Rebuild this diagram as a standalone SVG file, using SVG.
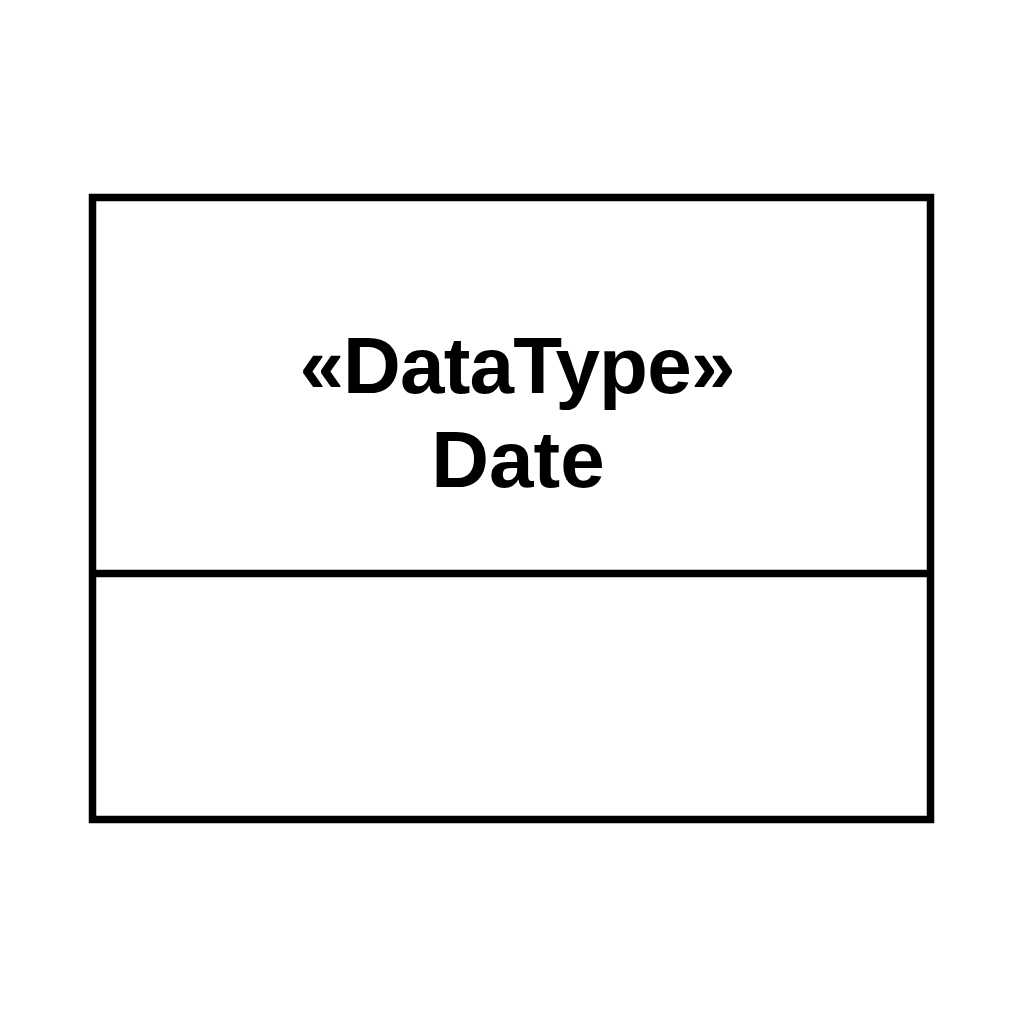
<svg xmlns="http://www.w3.org/2000/svg" width="1024" height="1024" viewBox="0 0 1024 1024">
  <style>
    .box { fill: #ffffff; stroke: #000000; stroke-width: 7.5; }
    .div { stroke: #000000; stroke-width: 7.5; }
    .label { font-family: "Liberation Sans", Arial, sans-serif; font-weight: bold; font-size: 80px; fill: #000000; text-anchor: middle; }
  </style>
  <rect width="1024" height="1024" fill="#ffffff"/>
  <g id="node-date">
    <rect class="box" x="92.5" y="197.5" width="838" height="622"/>
    <line class="div" x1="92.5" y1="573.5" x2="930.5" y2="573.5"/>
    <text class="label" x="517" y="393" letter-spacing="-0.8">«DataType»</text>
    <text class="label" x="518" y="487">Date</text>
  </g>
  <g id="connectors"></g>
</svg>
